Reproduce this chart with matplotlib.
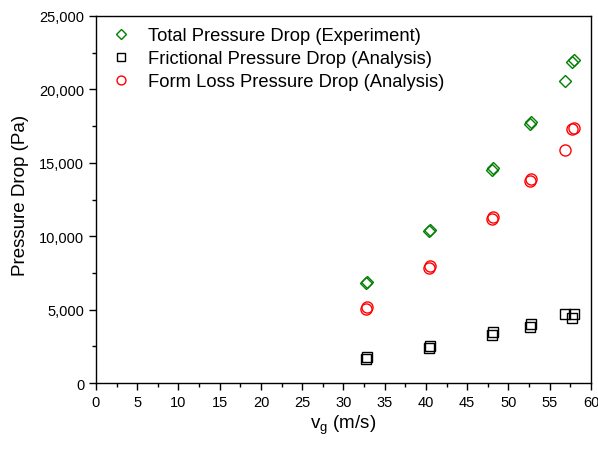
import matplotlib
matplotlib.use("Agg")
import matplotlib.pyplot as plt
from matplotlib.ticker import MultipleLocator, FuncFormatter

plt.rcParams['font.family'] = ['Liberation Sans', 'DejaVu Sans']
plt.rcParams['mathtext.fontset'] = 'custom'
plt.rcParams['mathtext.rm'] = 'Liberation Sans'
plt.rcParams['mathtext.it'] = 'Liberation Sans'

# Gas velocity for each run (m/s)
velocity = [32.7, 32.8, 40.4, 40.5, 48.0, 48.1, 52.6, 52.7, 56.8, 57.7, 57.9]
# Measured total pressure drop (Pa)
total_exp = [6800, 6850, 10350, 10400, 14500, 14650, 17650, 17800, 20600, 21850, 22000]
# Computed frictional component (Pa)
frictional = [1650, 1750, 2400, 2550, 3250, 3450, 3800, 4050, 4700, 4400, 4700]
# Computed form-loss component (Pa)
form_loss = [5050, 5150, 7850, 7950, 11150, 11300, 13750, 13900, 15850, 17300, 17400]

labels = ["Total Pressure Drop (Experiment)",
          "Frictional Pressure Drop (Analysis)",
          "Form Loss Pressure Drop (Analysis)"]

fig = plt.figure(figsize=(5.98, 4.52), dpi=100)
ax = fig.add_axes([0.1605, 0.1504, 0.8278, 0.812])

ax.plot(velocity, total_exp, linestyle='none', marker='D', markersize=6.5,
        markerfacecolor='none', markeredgecolor='#008000', markeredgewidth=1.0,
        label=labels[0])
ax.plot(velocity, frictional, linestyle='none', marker='s', markersize=7,
        markerfacecolor='none', markeredgecolor='black', markeredgewidth=1.0,
        label=labels[1])
ax.plot(velocity, form_loss, linestyle='none', marker='o', markersize=8,
        markerfacecolor='none', markeredgecolor='red', markeredgewidth=1.0,
        label=labels[2])

ax.set_xlim(0, 60)
ax.set_ylim(0, 25000)
ax.xaxis.set_major_locator(MultipleLocator(5))
ax.xaxis.set_minor_locator(MultipleLocator(2.5))
ax.yaxis.set_major_locator(MultipleLocator(5000))
ax.yaxis.set_minor_locator(MultipleLocator(2500))
ax.yaxis.set_major_formatter(FuncFormatter(lambda v, p: f"{int(v):,}"))

ax.tick_params(which='both', direction='out', labelsize=10.5, width=1.0)
ax.tick_params(which='major', length=5)
ax.tick_params(which='minor', length=3)
for s in ax.spines.values():
    s.set_linewidth(1.0)

ax.set_xlabel(r"v$_\mathregular{g}$ (m/s)", fontsize=13.5, labelpad=3)
ax.set_ylabel("Pressure Drop (Pa)", fontsize=13.5, labelpad=8)
ax.yaxis.set_label_coords(-0.135, 0.515)

ax.legend(loc='upper left', frameon=False, fontsize=13.2, handletextpad=0.75,
          borderaxespad=0.2, labelspacing=0.33, borderpad=0.4,
          markerscale=0.8, handlelength=1.5)

fig.savefig("out.png", dpi=100)
